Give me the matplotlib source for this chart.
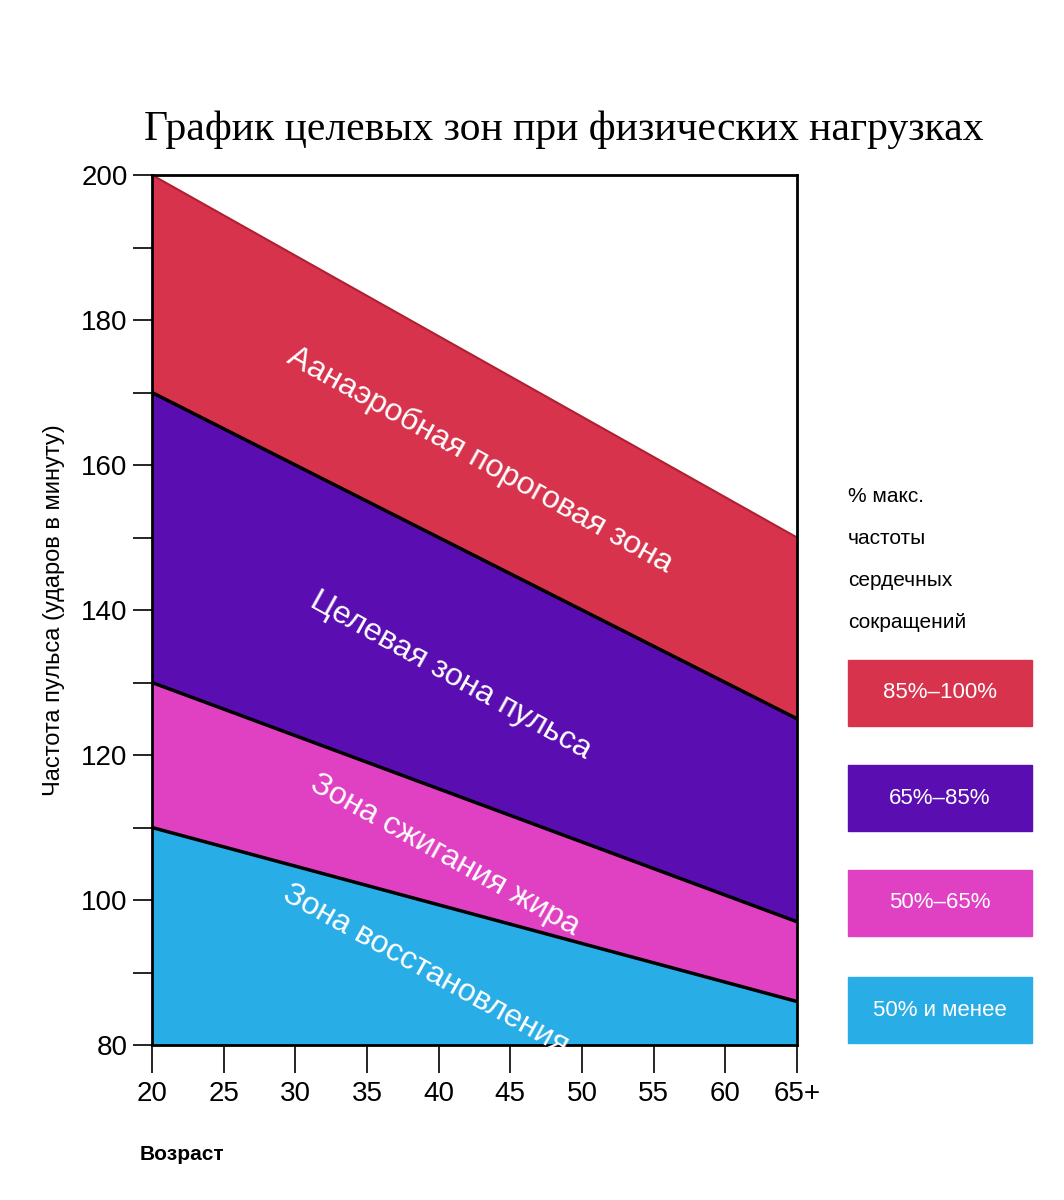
import matplotlib
matplotlib.use("Agg")
import matplotlib.pyplot as plt
import numpy as np

ages = [20, 65]
max_line = [200, 150]
b85 = [170, 125]
b65 = [130, 97]
b50 = [110, 86]
floor = [80, 80]
zone_names = ["Аанаэробная пороговая зона", "Целевая зона пульса",
              "Зона сжигания жира", "Зона восстановления"]
zone_pos = [(42.9, 160.7), (40.8, 131.0), (40.4, 106.2), (39.1, 90.3)]
legend_labels = ["85%\u2013100%", "65%\u201385%", "50%\u201365%", "50% и менее"]
colors = ["#d8334c", "#5a0db0", "#e040c2", "#29ade6"]
xticks = [20, 25, 30, 35, 40, 45, 50, 55, 60, 65]
xticklabels = ["20", "25", "30", "35", "40", "45", "50", "55", "60", "65+"]

plt.rcParams['font.family'] = ['Liberation Sans', 'DejaVu Sans']
fig = plt.figure(figsize=(10.64, 12), dpi=100)
ax = fig.add_axes([152/1064, 1-1045/1200, 645/1064, 870/1200])
bounds = [max_line, b85, b65, b50, floor]
for i in range(4):
    ax.fill_between(ages, bounds[i+1], bounds[i], color=colors[i], lw=0)
for b in [b85, b65, b50]:
    ax.plot(ages, b, color="black", lw=2.5)
ax.plot(ages, max_line, color="#b02030", lw=1.5)
for (x, y), t in zip(zone_pos, zone_names):
    ax.text(x, y, t, color="white", fontsize=23, rotation=-29,
            ha="center", va="center", rotation_mode="anchor")
ax.set_xlim(20, 65)
ax.set_ylim(80, 200)
ax.set_xticks(xticks)
ax.set_xticklabels(xticklabels, fontsize=20)
ax.set_yticks([80, 100, 120, 140, 160, 180, 200])
ax.set_yticks([90, 110, 130, 150, 170, 190], minor=True)
ax.tick_params(axis="y", labelsize=20, length=14, width=1.2)
ax.tick_params(axis="y", which="minor", length=14, width=1.2)
ax.tick_params(axis="x", length=20, width=1.2, pad=6)
for s in ax.spines.values():
    s.set_linewidth(2)
ax.set_ylabel("Частота пульса (ударов в минуту)", fontsize=17, labelpad=12)

fig.text(0.53, 1-130/1200, "График целевых зон при физических нагрузках",
         family="Liberation Serif", fontsize=30, ha="center", va="center")
fig.text(140/1064, 1-1155/1200, "Возраст", fontsize=15, fontweight="bold",
         ha="left", va="center")
for i, t in enumerate(["% макс.", "частоты", "сердечных", "сокращений"]):
    fig.text(848/1064, 1-(497+42*i)/1200, t, fontsize=15, ha="left", va="center")
box_tops = [660, 765, 870, 977]
for top, c, t in zip(box_tops, colors, legend_labels):
    fig.patches.append(plt.Rectangle((848/1064, 1-(top+66)/1200), 184/1064, 66/1200,
                                     transform=fig.transFigure, color=c))
    fig.text(940/1064, 1-(top+33)/1200, t, color="white", fontsize=16,
             ha="center", va="center")
fig.savefig("out.png", dpi=100, facecolor="white")
